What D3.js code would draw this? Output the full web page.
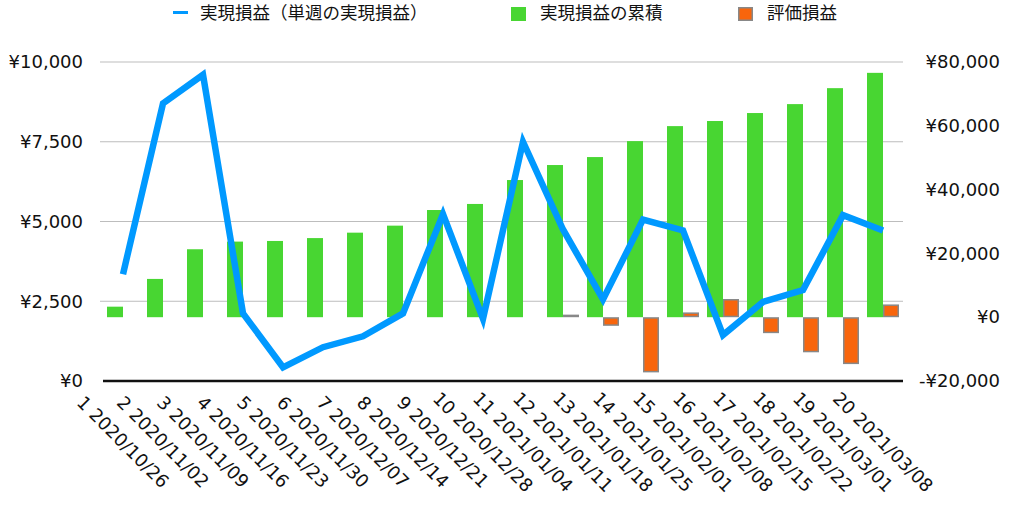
<!DOCTYPE html>
<html><head><meta charset="utf-8">
<script src="https://cdn.jsdelivr.net/npm/d3@7"></script>
<style>body{margin:0;background:#fff}svg{display:block}</style>
</head><body>
<svg id="c" width="1016" height="508"></svg>
<script>
const categories = ["1 2020/10/26","2 2020/11/02","3 2020/11/09","4 2020/11/16","5 2020/11/23","6 2020/11/30","7 2020/12/07","8 2020/12/14","9 2020/12/21","10 2020/12/28","11 2021/01/04","12 2021/01/11","13 2021/01/18","14 2021/01/25","15 2021/02/01","16 2021/02/08","17 2021/02/15","18 2021/02/22","19 2021/03/01","20 2021/03/08"];
const weeklyRealized = [3350,8700,9600,2120,430,1060,1400,2120,5230,1950,7500,4750,2560,5060,4720,1440,2480,2850,5200,4720];
const cumulativeRealized = [3300,12000,21300,23700,23900,24800,26500,28700,33600,35500,43000,47700,50200,55200,59900,61500,64000,66800,71800,76600];
const unrealized = [0,0,0,0,0,0,0,0,0,0,0,800,-2700,-17300,1500,5700,-5000,-11000,-14700,4000];
const leftTicks = [0,2500,5000,7500,10000];
const rightTicks = [-20000,0,20000,40000,60000,80000];
const legendLabels = ["実現損益（単週の実現損益）","実現損益の累積","評価損益"];

const svg = d3.select("#c");
const L = 103, R = 903, T = 62, B = 381;
const x = d3.scaleBand().domain(categories).range([L, R]);
const xs = d3.scaleBand().domain(["cum","eval"]).range([0, x.bandwidth()]).paddingOuter(0.25);
const yL = d3.scaleLinear().domain([0,10000]).range([B,T]);
const yR = d3.scaleLinear().domain([-20000,80000]).range([B,T]);
const yen = v => (v<0?"-":"") + "¥" + d3.format(",")(Math.abs(v));
const tickFont = "DejaVu Sans, sans-serif";

// gridlines (left axis)
svg.append("g").selectAll("line").data(leftTicks.filter(d=>d>0)).join("line")
  .attr("x1", L-3).attr("x2", R).attr("y1", d=>yL(d)).attr("y2", d=>yL(d))
  .attr("stroke","#bdbdbd").attr("stroke-width",1);

// left axis labels
const gl = svg.append("g").attr("transform",`translate(${L},0)`)
  .call(d3.axisLeft(yL).tickValues(leftTicks).tickFormat(yen).tickSize(0).tickPadding(20));
gl.select(".domain").remove();
gl.selectAll("text").attr("font-family",tickFont).attr("font-size",18).attr("fill","#111");

// right axis labels
const gr = svg.append("g").attr("transform",`translate(1000,0)`)
  .call(d3.axisLeft(yR).tickValues(rightTicks).tickFormat(yen).tickSize(0).tickPadding(0));
gr.select(".domain").remove();
gr.selectAll("text").attr("font-family",tickFont).attr("font-size",18).attr("fill","#111");

// green bars
svg.append("g").selectAll("rect").data(categories).join("rect")
  .attr("x", (d)=>x(d)+xs("cum"))
  .attr("width", xs.bandwidth())
  .attr("y", (d,i)=>yR(Math.max(0,cumulativeRealized[i])))
  .attr("height", (d,i)=>Math.abs(yR(cumulativeRealized[i])-yR(0)))
  .attr("fill","#48d632");

// orange bars
svg.append("g").selectAll("rect").data(categories.filter((d,i)=>unrealized[i]!==0)).join("rect")
  .attr("x", d=>x(d)+xs("eval")+0.75)
  .attr("width", xs.bandwidth()-1.5)
  .attr("y", d=>{const v=unrealized[categories.indexOf(d)]; return yR(Math.max(0,v))+0.75;})
  .attr("height", d=>{const v=unrealized[categories.indexOf(d)]; return Math.max(0.5,Math.abs(yR(v)-yR(0))-1.5);})
  .attr("fill","#f8650c").attr("stroke","#888").attr("stroke-width",1.5);

// x axis line
svg.append("line").attr("x1",L).attr("x2",R).attr("y1",B).attr("y2",B)
  .attr("stroke","#111").attr("stroke-width",2.5);

// line
const line = d3.line().x((d,i)=>x(categories[i])+x.bandwidth()/2).y(d=>yL(d));
svg.append("path").datum(weeklyRealized).attr("d",line)
  .attr("fill","none").attr("stroke","#0099ff").attr("stroke-width",6.5)
  .attr("stroke-linejoin","miter").attr("stroke-miterlimit",10);

// category labels
svg.append("g").selectAll("text").data(categories).join("text")
  .attr("transform", d=>`translate(${x(d)+x.bandwidth()/2},442) rotate(45)`)
  .attr("text-anchor","middle").attr("dy","0.35em")
  .attr("font-family",tickFont).attr("font-size",18).attr("fill","#111")
  .text(d=>d);

// legend
const lf = "Noto Sans CJK JP, sans-serif";
svg.append("line").attr("x1",173).attr("x2",188).attr("y1",12.5).attr("y2",12.5)
  .attr("stroke","#0099ff").attr("stroke-width",3);
svg.append("text").attr("x",200).attr("y",13).attr("dy","0.35em").attr("font-family",lf)
  .attr("font-size",17.5).attr("fill","#111").text(legendLabels[0]);
svg.append("rect").attr("x",511).attr("y",7).attr("width",15).attr("height",14).attr("fill","#48d632");
svg.append("text").attr("x",540).attr("y",13).attr("dy","0.35em").attr("font-family",lf)
  .attr("font-size",17.5).attr("fill","#111").text(legendLabels[1]);
svg.append("rect").attr("x",738.75).attr("y",7.75).attr("width",13.5).attr("height",12.5)
  .attr("fill","#f8650c").attr("stroke","#888").attr("stroke-width",1.5);
svg.append("text").attr("x",767).attr("y",13).attr("dy","0.35em").attr("font-family",lf)
  .attr("font-size",17.5).attr("fill","#111").text(legendLabels[2]);
</script>
</body></html>
